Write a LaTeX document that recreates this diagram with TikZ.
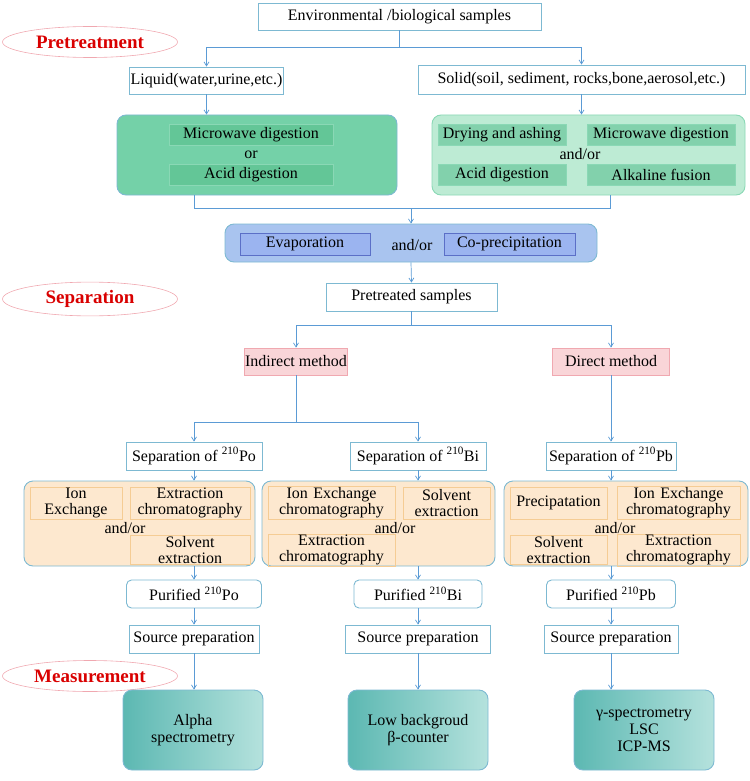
\documentclass[tikz,border=0pt]{standalone}
\usepackage{fontspec}
\setmainfont{Liberation Serif}
\usetikzlibrary{arrows.meta,shapes.geometric}
\definecolor{fr}{HTML}{7DB9D2}
\definecolor{ar}{HTML}{5B9BD5}
\definecolor{gA}{HTML}{74D1A8}
\definecolor{gAi}{HTML}{63C697}
\definecolor{gAb}{HTML}{8AD8B5}
\definecolor{gB}{HTML}{BDEBD4}
\definecolor{bl}{HTML}{A9C4EF}
\definecolor{blb}{HTML}{6F95DB}
\definecolor{bli}{HTML}{5B6FC7}
\definecolor{pk}{HTML}{F9D5D8}
\definecolor{pkb}{HTML}{F0A8B0}
\definecolor{or}{HTML}{FDE8CF}
\definecolor{orb}{HTML}{F5CC94}
\definecolor{tl}{HTML}{5CB8B2}
\definecolor{tl2}{HTML}{B5E2DD}
\begin{document}
\begin{tikzpicture}[x=1pt,y=-1pt,font=\fontsize{16}{17}\selectfont,
 bx/.style={draw=fr,line width=0.9pt,fill=white,inner sep=1pt,align=center},
 rb/.style={draw=fr,line width=0.9pt,rounded corners=9pt},
 ib/.style={draw=#1,line width=0.6pt,inner sep=1pt,align=center},
 el/.style={ellipse,draw=pkb,line width=0.6pt,minimum width=175pt,minimum height=31pt,text=red!85!black,font=\fontsize{19}{21}\selectfont\bfseries},
 ln/.style={draw=ar,line width=0.7pt},
 arr/.style={ln,-{Straight Barb[length=4pt,width=5pt]}}]
\useasboundingbox (0,0) rectangle (749,781);
% pretreatment
\node[bx,minimum width=283pt,minimum height=27pt] (env) at (399.5,16.5) {Environmental /biological samples};
\node[el] (pre) at (90,42) {Pretreatment};
\node[bx,minimum width=153pt,minimum height=27pt] (liq) at (206.5,80.5) {Liquid(water,urine,etc.)};
\node[bx,minimum width=327pt,minimum height=29pt] (sol) at (581.5,79.5) {Solid(soil, sediment, rocks,bone,aerosol,etc.)};
\coordinate (s1) at (399.5,47);
\draw[ln] (env.south) -- (s1);
\draw[arr] (s1) -| (liq.north);
\draw[arr] (s1) -| (sol.north);
\node[rb,fill=gA,minimum width=280pt,minimum height=80pt] (lg) at (257,155) {};
\node[rb,fill=gB,draw=gAb,minimum width=313pt,minimum height=80pt] (sg) at (588.5,155) {};
\draw[arr] (liq.south) -- (liq.south |- lg.north);
\draw[arr] (sol.south) -- (sol.south |- sg.north);
\node[ib=gAb,fill=gAi,minimum width=164pt,minimum height=21pt] (lm) at (251,134.5) {Microwave digestion};
\node (lor) at (251,154.5) {or};
\node[ib=gAb,fill=gAi,minimum width=164pt,minimum height=21pt] (la) at (251,174.5) {Acid digestion};
\node[ib=gAb,fill=gAi!80,minimum width=128pt,minimum height=21pt] (sd) at (502,134.5) {Drying and ashing};
\node[ib=gAb,fill=gAi!80,minimum width=148pt,minimum height=21pt] (sm) at (661,134.5) {Microwave digestion};
\node (sor) at (580,154.5) {and/or};
\node[ib=gAb,fill=gAi!80,minimum width=128pt,minimum height=21pt] (sa) at (502,174.5) {Acid digestion};
\node[ib=gAb,fill=gAi!80,minimum width=148pt,minimum height=21pt] (sf) at (661,174.5) {Alkaline fusion};
\coordinate (m1) at (194,208); \coordinate (m2) at (610,208); \coordinate (m3) at (411,208);
\draw[ln] (194,195) -- (m1) -- (m2) -- (610,195);
\node[rb,fill=bl,draw=fr,minimum width=372pt,minimum height=38pt] (bb) at (411,243) {};
\draw[arr] (m3) -- (bb.north);
\node[ib=bli,fill=bl!92!blue,minimum width=130pt,minimum height=22pt] (ev) at (305,244) {Evaporation};
\node (bor) at (412,245) {and/or};
\node[ib=bli,fill=bl!92!blue,minimum width=131pt,minimum height=22pt] (cp) at (509.5,244) {Co-precipitation};
% separation
\node[el] (sep) at (90,299) {Separation};
\node[bx,minimum width=171pt,minimum height=28pt] (pts) at (411.5,297) {Pretreated samples};
\draw[arr] (bb.south) -- (pts.north);
\node[bx,draw=pkb,fill=pk,minimum width=95pt,minimum height=27pt] (ind) at (296,361.5) {Indirect method};
\node[bx,draw=pkb,fill=pk,minimum width=117pt,minimum height=27pt] (dir) at (611,361.5) {Direct method};
\coordinate (p1) at (411.5,325);
\draw[ln] (pts.south) -- (p1);
\draw[arr] (p1) -| (ind.north);
\draw[arr] (p1) -| (dir.north);
\node[bx,minimum width=136pt,minimum height=28pt] (spo) at (194,456) {Separation of \textsuperscript{210}Po};
\node[bx,minimum width=136pt,minimum height=28pt] (sbi) at (418,456) {Separation of \textsuperscript{210}Bi};
\node[bx,minimum width=130pt,minimum height=28pt] (spb) at (611,456) {Separation of \textsuperscript{210}Pb};
\coordinate (i1) at (296,422);
\draw[ln] (ind.south) -- (i1);
\draw[arr] (i1) -| (spo.north);
\draw[arr] (i1) -| (sbi.north);
\draw[arr] (dir.south) -- (spb.north);
\node[rb,fill=or,minimum width=231pt,minimum height=85pt] (opo) at (139.5,523.5) {};
\node[rb,fill=or,minimum width=233pt,minimum height=85pt] (obi) at (378.5,523.5) {};
\node[rb,fill=or,minimum width=244pt,minimum height=85pt] (opb) at (626,523.5) {};
\draw[arr] (spo.south) -- (spo.south |- opo.north);
\draw[arr] (sbi.south) -- (sbi.south |- obi.north);
\draw[arr] (spb.south) -- (spb.south |- opb.north);
\tikzset{ob/.style={ib=orb,minimum height=32pt,text width=#1,font=\fontsize{16}{16}\selectfont}}
\node[ob=90pt] (a1) at (76,503) {Ion\\Exchange};
\node[ob=118pt] (a2) at (190,503) {Extraction\\chromatography};
\node (a3) at (125,528) {and/or};
\node[ob=118pt,minimum height=27pt] (a4) at (190,550) {Solvent\\extraction};
\node[ob=125pt] (b1) at (331.5,503) {Ion Exchange\\chromatography};
\node[ob=85pt] (b2) at (446.5,503) {Solvent\\extraction};
\node (b3) at (395,528) {and/or};
\node[ob=125pt,minimum height=27pt] (b4) at (331.5,550) {Extraction\\chromatography};
\node[ob=95pt] (c1) at (558.5,503) {Precipatation};
\node[ob=121pt] (c2) at (678.5,503) {Ion Exchange\\chromatography};
\node (c3) at (615,528) {and/or};
\node[ob=95pt,minimum height=27pt] (c4) at (558.5,550) {Solvent\\extraction};
\node[ob=121pt,minimum height=27pt] (c5) at (678.5,550) {Extraction\\chromatography};
\tikzset{pb/.style={bx,rounded corners=5pt,minimum height=28pt}}
\node[pb,minimum width=135pt] (ppo) at (194,594) {Purified \textsuperscript{210}Po};
\node[pb,minimum width=128pt] (pbi) at (418,594) {Purified \textsuperscript{210}Bi};
\node[pb,minimum width=129pt] (ppb) at (611,594) {Purified \textsuperscript{210}Pb};
\draw[arr] (spo.south |- opo.south) -- (ppo.north);
\draw[arr] (sbi.south |- obi.south) -- (pbi.north);
\draw[arr] (spb.south |- opb.south) -- (ppb.north);
\node[bx,minimum width=130pt,minimum height=28pt] (rpo) at (194,639) {Source preparation};
\node[bx,minimum width=145pt,minimum height=28pt] (rbi) at (418,639) {Source preparation};
\node[bx,minimum width=134pt,minimum height=28pt] (rpb) at (611,639) {Source preparation};
\draw[arr] (ppo) -- (rpo); \draw[arr] (pbi) -- (rbi); \draw[arr] (ppb) -- (rpb);
% measurement
\node[el] (mea) at (90,676) {Measurement};
\tikzset{tb/.style={draw=fr,line width=0.9pt,rounded corners=9pt,left color=tl,right color=tl2,minimum width=140pt,minimum height=80pt,align=center}}
\node[tb] (tpo) at (193,730) {Alpha\\spectrometry};
\node[tb] (tbi) at (418,730) {Low backgroud\\β-counter};
\node[tb] (tpb) at (644,730) {γ-spectrometry\\LSC\\ICP-MS};
\draw[arr] (rpo.south) -- (rpo.south |- tpo.north);
\draw[arr] (rbi.south) -- (rbi.south |- tbi.north);
\draw[arr] (rpb.south) -- (rpb.south |- tpb.north);
\end{tikzpicture}
\end{document}
